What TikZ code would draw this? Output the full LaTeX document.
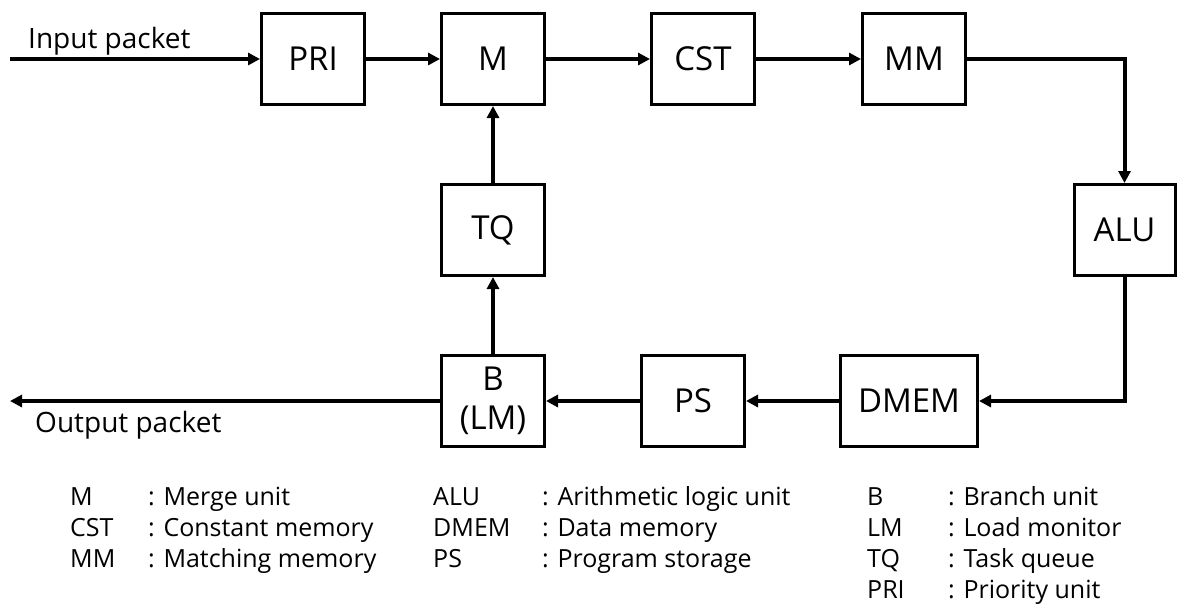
\documentclass[tikz,border=0pt]{standalone}
\usepackage{fontspec}
\setmainfont{Open Sans}
\usetikzlibrary{arrows.meta,positioning}
\tikzset{
  unit/.style={draw, line width=3pt, minimum width=103pt, minimum height=91pt,
               inner sep=0pt, align=center, font=\fontsize{33}{39}\selectfont},
  flow/.style={-{Triangle[length=12pt,width=12pt]}, line width=4pt},
  lbl/.style={font=\fontsize{28}{32}\selectfont, anchor=base west, inner sep=0pt},
  key/.style={font=\fontsize{25}{30}\selectfont, anchor=base west, inner sep=0pt},
}
\begin{document}
\begin{tikzpicture}[x=1pt, y=-1pt]
  \useasboundingbox (0,0) rectangle (1177,606);
  % pipeline, top row
  \node[unit] (pri) at (313,59) {PRI};
  \node[unit, right=74pt of pri] (m) {M};
  \node[unit, right=104pt of m] (cst) {CST};
  \node[unit, right=105pt of cst] (mm) {MM};
  % right side and bottom row
  \node[unit, minimum width=101pt] (alu) at (1124.5,230) {ALU};
  \node[unit, minimum width=137pt] (dmem) at (909,401) {DMEM};
  \node[unit, left=93pt of dmem] (ps) {PS};
  % feedback column
  \node[unit, below=77pt of m] (tq) {TQ};
  \node[unit, below=77pt of tq] (b) {B\\(LM)};
  % packet ends
  \coordinate (in) at (10,59);
  \coordinate (out) at (10,401);
  \node[lbl] (inlbl) at (28,48) {Input packet};
  \node[lbl] (outlbl) at (35,432) {Output packet};
  % flows
  \draw[flow] (in) -- (pri);
  \draw[flow] (pri) -- (m);
  \draw[flow] (m) -- (cst);
  \draw[flow] (cst) -- (mm);
  \draw[flow] (mm.east) -| (alu.north);
  \draw[flow] (alu.south) |- (dmem.east);
  \draw[flow] (dmem) -- (ps);
  \draw[flow] (ps) -- (b);
  \draw[flow] (b) -- (tq);
  \draw[flow] (tq) -- (m);
  \draw[flow] (b.west) -- (out);
  % legend
  \foreach \k/\t [count=\i] in {M/Merge unit, CST/Constant memory,
      MM/Matching memory} {
    \node[key] (ka\i) at (70,474+31*\i) {\k};
    \node[key] (ta\i) at (148,474+31*\i) {: \t};
  }
  \foreach \k/\t [count=\i] in {ALU/Arithmetic logic unit, DMEM/Data memory,
      PS/Program storage} {
    \node[key] (kb\i) at (433,474+31*\i) {\k};
    \node[key] (tb\i) at (542,474+31*\i) {: \t};
  }
  \foreach \k/\t [count=\i] in {B/Branch unit, LM/Load monitor,
      TQ/Task queue, PRI/Priority unit} {
    \node[key] (kc\i) at (867,474+31*\i) {\k};
    \node[key] (tc\i) at (948,474+31*\i) {: \t};
  }
\end{tikzpicture}
\end{document}
